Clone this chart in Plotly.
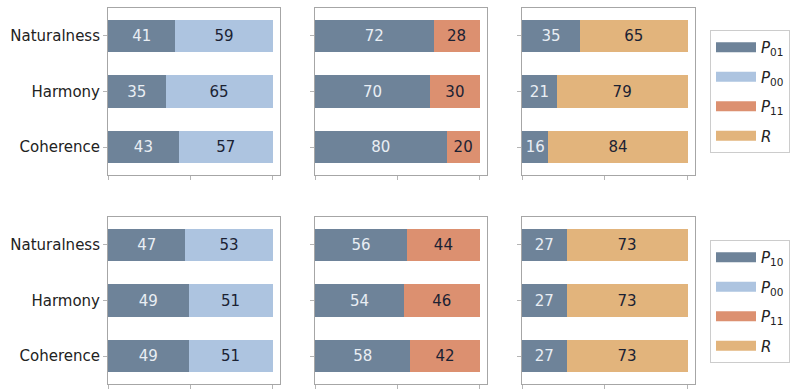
import plotly.graph_objects as go

categories = ["Coherence", "Harmony", "Naturalness"]

# Top row
top_p01_a = [43, 35, 41]
top_p00 = [57, 65, 59]
top_p01_b = [80, 70, 72]
top_p11 = [20, 30, 28]
top_p01_c = [16, 21, 35]
top_r = [84, 79, 65]

# Bottom row
bot_p10_a = [49, 49, 47]
bot_p00 = [51, 51, 53]
bot_p10_b = [58, 54, 56]
bot_p11 = [42, 46, 44]
bot_p10_c = [27, 27, 27]
bot_r = [73, 73, 73]

C_DARK = "#6e8399"
C_LIGHT = "#adc4e0"
C_SALMON = "#dc9070"
C_TAN = "#e2b47c"
TXT_LIGHT = "#e9eef4"
TXT_DARK = "#1b2233"
FONT = "DejaVu Sans"

W, H = 790, 389
fig = go.Figure()

xdoms = [(108, 280), (315, 487), (522, 695)]
ydoms = [(8, 175), (217, 384)]

panels = [
    (0, 0, top_p01_a, C_DARK, top_p00, C_LIGHT),
    (0, 1, top_p01_b, C_DARK, top_p11, C_SALMON),
    (0, 2, top_p01_c, C_DARK, top_r, C_TAN),
    (1, 0, bot_p10_a, C_DARK, bot_p00, C_LIGHT),
    (1, 1, bot_p10_b, C_DARK, bot_p11, C_SALMON),
    (1, 2, bot_p10_c, C_DARK, bot_r, C_TAN),
]

layout_axes = {}
for i, (r, c, v1, c1, v2, c2) in enumerate(panels):
    n = i + 1
    xa = "x" if n == 1 else f"x{n}"
    ya = "y" if n == 1 else f"y{n}"
    for vals, col, tc in ((v1, c1, TXT_LIGHT), (v2, c2, TXT_DARK)):
        fig.add_trace(go.Bar(
            y=categories, x=vals, orientation="h", xaxis=xa, yaxis=ya,
            marker=dict(color=col, line=dict(width=0)), width=0.58,
            text=vals, texttemplate="%{text}", textposition="inside",
            insidetextanchor="middle", textangle=0,
            textfont=dict(color=tc, size=15, family=FONT),
            showlegend=False, hoverinfo="skip",
        ))
    xd = xdoms[c]
    yd = ydoms[r]
    axcommon = dict(showline=True, linecolor="#a6a6a6", linewidth=1, mirror=True,
                    ticks="outside", ticklen=4, tickcolor="#b5b5b5", tickwidth=1,
                    showgrid=False, zeroline=False, fixedrange=True)
    layout_axes["xaxis" if n == 1 else f"xaxis{n}"] = dict(
        domain=[xd[0] / W, xd[1] / W], anchor=ya, range=[0, 104.5],
        tickvals=[0, 50, 100], showticklabels=False, **axcommon)
    layout_axes["yaxis" if n == 1 else f"yaxis{n}"] = dict(
        domain=[1 - yd[1] / H, 1 - yd[0] / H], anchor=xa, range=[-0.5, 2.5],
        type="category", categoryorder="array", categoryarray=categories,
        showticklabels=(c == 0), tickfont=dict(size=15, family=FONT, color="#222"),
        **axcommon)

top_legend = [("<i>P</i><sub>01</sub>", C_DARK), ("<i>P</i><sub>00</sub>", C_LIGHT),
              ("<i>P</i><sub>11</sub>", C_SALMON), ("<i>R</i>", C_TAN)]
bot_legend = [("<i>P</i><sub>10</sub>", C_DARK), ("<i>P</i><sub>00</sub>", C_LIGHT),
              ("<i>P</i><sub>11</sub>", C_SALMON), ("<i>R</i>", C_TAN)]
for lg, items in (("legend", top_legend), ("legend2", bot_legend)):
    for k, (name, col) in enumerate(items):
        fig.add_trace(go.Scatter(
            x=[None], y=[None], mode="lines", name=name,
            line=dict(color=col, width=11), legend=lg,
            legendgroup=f"{lg}{k}", xaxis="x", yaxis="y", hoverinfo="skip"))

legcommon = dict(bordercolor="#cccccc", borderwidth=1, bgcolor="white",
                 font=dict(size=15, family=FONT, color="#222"),
                 tracegroupgap=7, itemwidth=40, xanchor="left", yanchor="top")
fig.update_layout(
    width=W, height=H, margin=dict(l=0, r=0, t=0, b=0),
    paper_bgcolor="white", plot_bgcolor="white", barmode="stack",
    showlegend=True,
    legend=dict(x=710 / W, y=1 - 30 / H, **legcommon),
    legend2=dict(x=710 / W, y=1 - 240 / H, **legcommon),
    **layout_axes,
)

fig.write_html("out.html")
